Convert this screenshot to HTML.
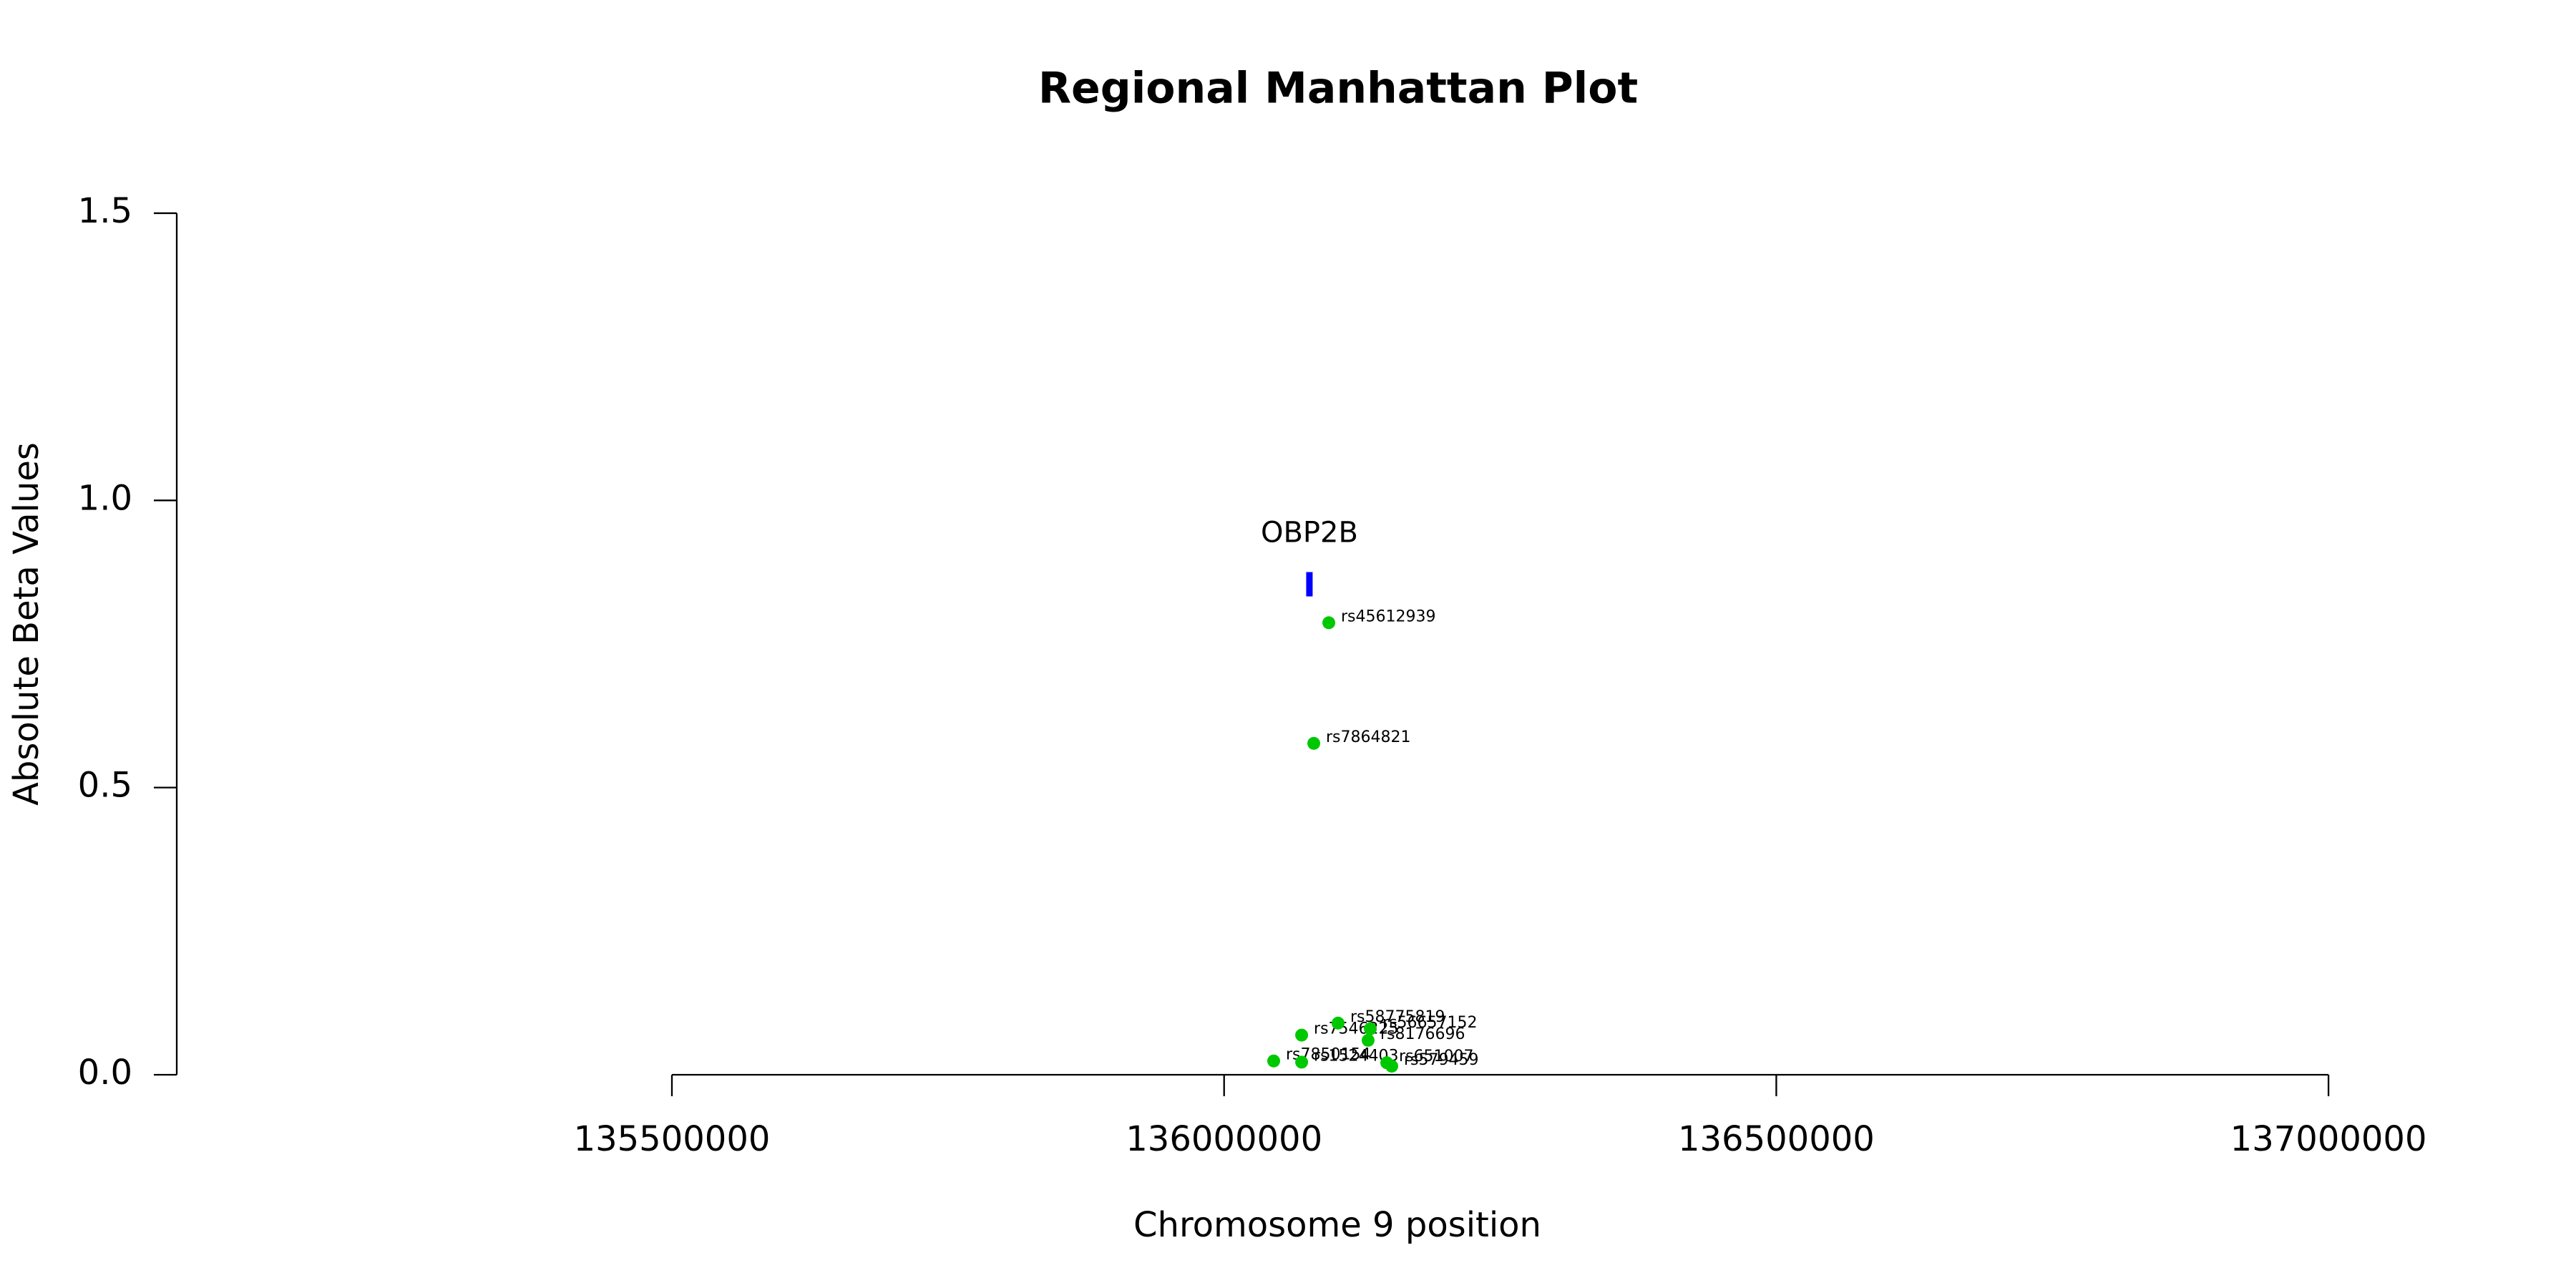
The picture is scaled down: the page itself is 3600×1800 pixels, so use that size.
<!DOCTYPE html>
<html><head><meta charset="utf-8"><style>
html,body{margin:0;padding:0;background:#fff}
svg{display:block;font-family:"DejaVu Sans","Liberation Sans",sans-serif}
</style></head><body>
<svg id="chart" width="3600" height="1800" viewBox="0 0 3600 1800">
<rect width="3600" height="1800" fill="#fff"/>
<text x="1870" y="127" font-size="60" font-weight="bold" text-anchor="middle" dominant-baseline="middle">Regional Manhattan Plot</text>
<text x="1869" y="1715" font-size="48" text-anchor="middle" dominant-baseline="middle">Chromosome 9 position</text>
<text transform="translate(40,872) rotate(-90)" font-size="48" text-anchor="middle" dominant-baseline="middle">Absolute Beta Values</text>
<g id="axes"></g><g id="marks"></g>
</svg>
<script>
const xTicks = [135500000, 136000000, 136500000, 137000000];
const yTicks = [0.0, 0.5, 1.0, 1.5];
const yTickLabels = ["0.0", "0.5", "1.0", "1.5"];
const snpNames = ["rs45612939","rs7864821","rs7850154","rs1524403","rs651007","rs579459","rs7546225","rs58775819","rs56657152","rs8176696"];
const snpPos = [136094800,136081200,136044900,136070200,136147300,136151800,136070200,136103200,136132400,136130400];
const snpBeta = [0.787,0.577,0.024,0.022,0.021,0.015,0.069,0.090,0.080,0.060];
const geneNames = ["OBP2B"];
const geneStart = [136076500];
const geneEnd = [136078000];
const geneY = [0.854];

const NS="http://www.w3.org/2000/svg";
const X = v => 939 + (v - 135500000) / 500000 * 771.7;
const Y = v => 1502 - v * 802.7;
function mk(tag, attrs, parent, text){
  const e=document.createElementNS(NS,tag);
  for(const k in attrs) e.setAttribute(k,attrs[k]);
  if(text!==undefined) e.textContent=text;
  parent.appendChild(e); return e;
}
const axes=document.getElementById('axes'), marks=document.getElementById('marks');
let e;
e=mk('line',{x1:247,x2:247,y1:Y(1.5),y2:Y(0),stroke:'#000','stroke-width':2.3},axes);


e=mk('line',{x1:X(xTicks[0]),x2:X(xTicks[xTicks.length-1]),y1:1502,y2:1502,stroke:'#000','stroke-width':2.3},axes);


yTicks.forEach((t,i)=>{
  e=mk('line',{x1:215,x2:247,y1:Y(t),y2:Y(t),stroke:'#000','stroke-width':2.3},axes);
  
  
  e=mk('text',{x:185,y:Y(t),'font-size':48,'text-anchor':'end','dominant-baseline':'middle'},axes,yTickLabels[i]);
  
  
});
xTicks.forEach(t=>{
  e=mk('line',{x1:X(t),x2:X(t),y1:1502,y2:1532,stroke:'#000','stroke-width':2.3},axes);
  
  
  e=mk('text',{x:X(t),y:1595,'font-size':48,'text-anchor':'middle','dominant-baseline':'middle'},axes,String(t));
  
  
});
geneNames.forEach((g,i)=>{
  const xc=(X(geneStart[i])+X(geneEnd[i]))/2;
  e=mk('rect',{x:xc-4.5,y:Y(geneY[i])-17,width:9,height:34,fill:'#0000ff'},marks);
  
  
  e=mk('text',{x:xc,y:Y(geneY[i])-70,'font-size':40,'text-anchor':'middle','dominant-baseline':'middle'},marks,g);
  
  
});
snpNames.forEach((n,i)=>{
  const cx=X(snpPos[i]), cy=Y(snpBeta[i]);
  e=mk('circle',{cx:cx,cy:cy,r:9,fill:'#00c800'},marks);
  
  
  e=mk('text',{x:cx+17,y:cy-8,'font-size':22,'dominant-baseline':'middle'},marks,n);
  
  
});
</script>
</body></html>
